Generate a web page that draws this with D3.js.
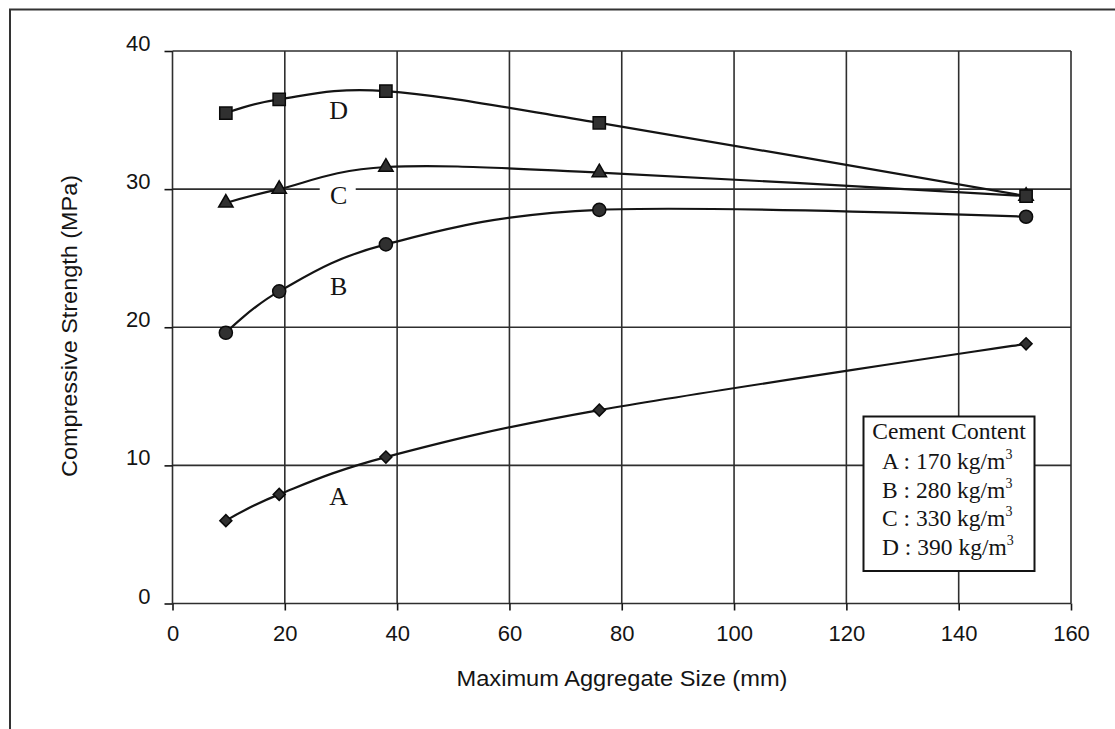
<!DOCTYPE html>
<html>
<head>
<meta charset="utf-8">
<script src="https://cdn.jsdelivr.net/npm/d3@7"></script>
<style>
  html, body { margin: 0; padding: 0; background: #fff; }
  svg { display: block; }
</style>
</head>
<body>
<svg id="chart" width="1115" height="729"></svg>
<script>
// Maximum aggregate size (mm) tested for every mix
const sizes = [9.5, 19, 38, 76, 152];

// Compressive strength (MPa) per cement content
const strengthA = [6.0, 7.9, 10.6, 14.0, 18.8];
const strengthB = [19.6, 22.6, 26.0, 28.5, 28.0];
const strengthC = [29.0, 30.0, 31.6, 31.2, 29.5];
const strengthD = [35.5, 36.5, 37.1, 34.8, 29.5];

const seriesNames = ["A", "B", "C", "D"];
const cementContents = [170, 280, 330, 390];
const xTicks = [0, 20, 40, 60, 80, 100, 120, 140, 160];
const yTicks = [0, 10, 20, 30, 40];

// square turned 45 degrees, used for series A
const symbolRhomb = {
  draw(context, size) {
    const r = Math.sqrt(size / 2);
    context.moveTo(0, -r);
    context.lineTo(r, 0);
    context.lineTo(0, r);
    context.lineTo(-r, 0);
    context.closePath();
  }
};

const series = [
  { name: "A", values: strengthA, symbol: symbolRhomb, size: 72 },
  { name: "B", values: strengthB, symbol: d3.symbolCircle, size: 135 },
  { name: "C", values: strengthC, symbol: d3.symbolTriangle, size: 90 },
  { name: "D", values: strengthD, symbol: d3.symbolSquare, size: 150 }
];

const svg = d3.select("#chart");
const ink = "#141414";
const gridInk = "#2e2e2e";
const sans = "'Liberation Sans', Arial, sans-serif";
const serif = "'Liberation Serif', 'Times New Roman', serif";

const x = d3.scaleLinear().domain([0, 160]).range([172.5, 1071]);
const y = d3.scaleLinear().domain([0, 40]).range([603.5, 51]);

// outer page frame (top and left edges)
svg.append("path")
  .attr("d", "M10,729 L10,9.5 L1115,9.5")
  .attr("fill", "none").attr("stroke", "#333").attr("stroke-width", 2);

// gridlines
const grid = svg.append("g");
grid.selectAll("line.h").data(yTicks).join("line")
  .attr("x1", x(0)).attr("x2", x(160))
  .attr("y1", d => y(d)).attr("y2", d => y(d))
  .attr("stroke", gridInk).attr("stroke-width", 1.6);
grid.selectAll("line.v").data(xTicks).join("line")
  .attr("x1", d => x(d)).attr("x2", d => x(d))
  .attr("y1", y(0)).attr("y2", y(40))
  .attr("stroke", gridInk).attr("stroke-width", 1.6);

// axes: outward tick marks with labels
const yAxis = d3.axisLeft(y).tickValues(yTicks).tickSize(8).tickPadding(14).tickFormat(d3.format("d"));
const gy = svg.append("g").attr("transform", `translate(${x(0)},0)`).call(yAxis);
gy.select(".domain").remove();
gy.selectAll(".tick line").attr("stroke", ink).attr("stroke-width", 1.6);
gy.selectAll(".tick text")
  .attr("font-family", sans).attr("font-size", 22).attr("fill", ink)
  .attr("dy", "-0.02em").attr("x", -22);

const xAxis = d3.axisBottom(x).tickValues(xTicks).tickSize(7).tickPadding(14).tickFormat(d3.format("d"));
const gx = svg.append("g").attr("transform", `translate(0,${y(0)})`).call(xAxis);
gx.select(".domain").remove();
gx.selectAll(".tick line").attr("stroke", ink).attr("stroke-width", 1.6);
gx.selectAll(".tick text")
  .attr("font-family", sans).attr("font-size", 22).attr("fill", ink)
  .attr("dy", "0.7em").attr("y", 22);

// axis titles
svg.append("text")
  .attr("x", 622).attr("y", 686)
  .attr("text-anchor", "middle")
  .attr("font-family", sans).attr("font-size", 22).attr("fill", ink)
  .attr("textLength", 331).attr("lengthAdjust", "spacingAndGlyphs")
  .text("Maximum Aggregate Size (mm)");

svg.append("text")
  .attr("transform", "translate(77,326) rotate(-90)")
  .attr("text-anchor", "middle")
  .attr("font-family", sans).attr("font-size", 22).attr("fill", ink)
  .attr("textLength", 302).attr("lengthAdjust", "spacingAndGlyphs")
  .text("Compressive Strength (MPa)");

// smoothed curves
const line = d3.line()
  .x((d, i) => x(sizes[i]))
  .y(d => y(d))
  .curve(d3.curveCardinal.tension(0));

const plot = svg.append("g");
plot.selectAll("path.curve").data(series).join("path")
  .attr("class", "curve")
  .attr("d", s => line(s.values))
  .attr("fill", "none").attr("stroke", ink).attr("stroke-width", 2.2);

// markers
series.forEach(s => {
  plot.append("g").selectAll("path").data(s.values).join("path")
    .attr("transform", (d, i) => `translate(${x(sizes[i])},${y(d)})`)
    .attr("d", d3.symbol().type(s.symbol).size(s.size))
    .attr("fill", "#303030").attr("stroke", "#0a0a0a").attr("stroke-width", 1.5);
});

// curve labels, placed in data units beside each curve
const curveLabels = [
  { name: "D", at: 29.6, value: 35.1 },
  { name: "C", at: 29.6, value: 28.9 },
  { name: "B", at: 29.6, value: 22.3 },
  { name: "A", at: 29.6, value: 7.15 }
];
const labelG = svg.append("g");
curveLabels.forEach(l => {
  if (l.name === "C") {
    labelG.append("rect")
      .attr("x", x(l.at) - 19).attr("y", y(l.value) - 20)
      .attr("width", 36).attr("height", 22).attr("fill", "#fff");
  }
  labelG.append("text")
    .attr("x", x(l.at)).attr("y", y(l.value))
    .attr("text-anchor", "middle")
    .attr("font-family", serif).attr("font-size", 26).attr("fill", ink)
    .text(l.name);
});

// legend box
const legend = svg.append("g");
legend.append("rect")
  .attr("x", 863.5).attr("y", 416.5).attr("width", 171).attr("height", 154.5)
  .attr("fill", "#fff").attr("stroke", ink).attr("stroke-width", 2);
legend.append("text")
  .attr("x", 949).attr("y", 439)
  .attr("text-anchor", "middle")
  .attr("font-family", serif).attr("font-size", 23.5).attr("fill", ink)
  .text("Cement Content");
const rowBase = [469, 497.5, 526, 555];
seriesNames.forEach((n, i) => {
  const t = legend.append("text")
    .attr("x", 882).attr("y", rowBase[i])
    .attr("font-family", serif).attr("font-size", 23.5).attr("fill", ink);
  t.append("tspan").text(`${n} : ${cementContents[i]} kg/m`);
  t.append("tspan").attr("font-size", 14).attr("dy", -10).text("3");
});
</script>
</body>
</html>
